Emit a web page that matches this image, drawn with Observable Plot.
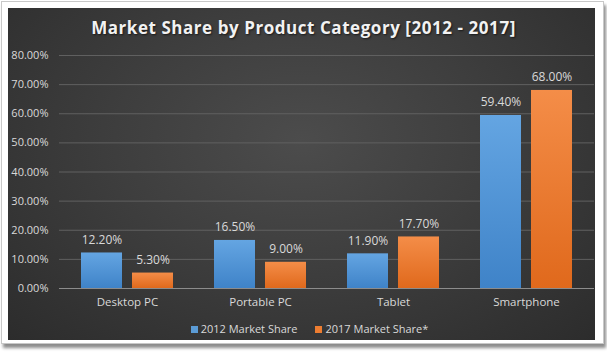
<!DOCTYPE html>
<html>
<head>
<meta charset="utf-8">
<script src="https://cdn.jsdelivr.net/npm/d3@7"></script>
<script src="https://cdn.jsdelivr.net/npm/@observablehq/plot@0.6"></script>
<style>
  html, body { margin: 0; padding: 0; background: #ffffff; }
  #page { position: relative; width: 607px; height: 352px; overflow: hidden; background: #fff; font-family: "Open Sans", sans-serif; }
  #frame { position: absolute; left: 1px; top: 1px; width: 601px; height: 341px; border: 1px solid #c8c8c8; background: #fff; box-shadow: 2px 4px 3px rgba(0,0,0,0.45); }
  #panel { position: absolute; left: 8px; top: 8px; width: 587px; height: 332px;
    background: radial-gradient(ellipse at 50% 40%, #4c4c4c 0%, #3e3e3e 45%, #2c2c2c 100%); }
  #title { position: absolute; left: 0; top: 16px; width: 607px; text-align: center; color: #f2f2f2; font-family: "Open Sans", sans-serif; font-weight: 700; font-size: 17px; letter-spacing: 0.55px; text-shadow: 1px 1px 2px rgba(0,0,0,0.6); }
  #chart { position: absolute; left: 0; top: 40px; }
  #legend { position: absolute; left: 6px; top: 321px; width: 607px; text-align: center; color: #d9d9d9; font-size: 11px; white-space: nowrap; }
  .sw { display: inline-block; width: 7px; height: 7px; margin-right: 3px; vertical-align: 0px; }
  .item { display: inline-block; margin: 0 9px; }
</style>
</head>
<body>
<div id="page">
  <div id="frame"></div>
  <div id="panel"></div>
  <div id="title">Market Share by Product Category [2012 - 2017]</div>
  <div id="chart"></div>
  <div id="legend"></div>
</div>
<script>
const categories = ["Desktop PC", "Portable PC", "Tablet", "Smartphone"];
const share2012 = [0.122, 0.165, 0.119, 0.594];
const share2017 = [0.053, 0.090, 0.177, 0.680];
const seriesNames = ["2012 Market Share", "2017 Market Share*"];
const yTicks = [0, 0.1, 0.2, 0.3, 0.4, 0.5, 0.6, 0.7, 0.8];

const rows2012 = categories.map((c, i) => ({category: c, value: share2012[i]}));
const rows2017 = categories.map((c, i) => ({category: c, value: share2017[i]}));
const fmt = d3.format(".2%");
const labelColor = "#d9d9d9";

const chart = Plot.plot({
  width: 607,
  height: 280,
  marginLeft: 59,
  marginRight: 13,
  marginTop: 15,
  marginBottom: 32,
  style: { background: "transparent", color: labelColor, fontFamily: "Open Sans, sans-serif", fontSize: "11px", overflow: "visible" },
  x: { domain: categories, paddingInner: 0.312, paddingOuter: 0.156, label: null },
  y: { domain: [0, 0.8], label: null },
  marks: [
    Plot.gridY(yTicks, { stroke: "#606060", strokeOpacity: 1, strokeWidth: 1 }),
    Plot.axisY(yTicks, { tickSize: 0, tickPadding: 11, tickFormat: fmt, fill: labelColor, fontSize: 11, label: null }),
    Plot.barY(rows2012, { x: "category", y: "value", fill: "url(#gBlue)", insetRight: 51 }),
    Plot.barY(rows2017, { x: "category", y: "value", fill: "url(#gOrange)", insetLeft: 51 }),
    Plot.ruleY([0], { stroke: "#8c8c8c", strokeWidth: 1 }),
    Plot.text(rows2012, { x: "category", y: "value", text: d => fmt(d.value), dx: -25.5, dy: -13, fill: labelColor, fontSize: 12 }),
    Plot.text(rows2017, { x: "category", y: "value", text: d => fmt(d.value), dx: 25.5, dy: -13, fill: labelColor, fontSize: 12 }),
    Plot.axisX({ tickSize: 0, tickPadding: 9, fill: labelColor, fontSize: 11.5, label: null })
  ]
});

// gradients for bars
const ns = "http://www.w3.org/2000/svg";
const defs = document.createElementNS(ns, "defs");
defs.innerHTML = `
  <linearGradient id="gBlue" x1="0" y1="0" x2="0" y2="1">
    <stop offset="0" stop-color="#64a5e2"/><stop offset="1" stop-color="#3f83c8"/>
  </linearGradient>
  <linearGradient id="gOrange" x1="0" y1="0" x2="0" y2="1">
    <stop offset="0" stop-color="#f48d48"/><stop offset="1" stop-color="#e0691c"/>
  </linearGradient>`;
chart.insertBefore(defs, chart.firstChild);
document.getElementById("chart").appendChild(chart);

const legendColors = ["#5b9bd5", "#ed7d31"];
document.getElementById("legend").innerHTML = seriesNames.map((n, i) =>
  `<span class="item"><span class="sw" style="background:${legendColors[i]}"></span>${n}</span>`).join("");
</script>
</body>
</html>
